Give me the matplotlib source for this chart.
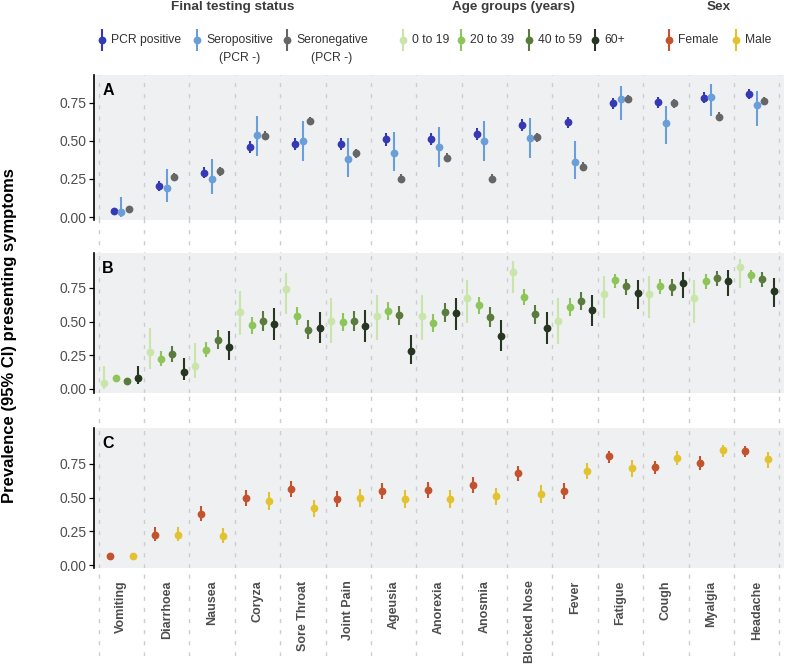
import matplotlib
matplotlib.use("Agg")
import matplotlib.pyplot as plt
import numpy as np

plt.rcParams['font.family'] = ['Liberation Sans', 'DejaVu Sans']

# ---------------- data ----------------
symptoms = ["Vomiting", "Diarrhoea", "Nausea", "Coryza", "Sore Throat", "Joint Pain",
            "Ageusia", "Anorexia", "Anosmia", "Blocked Nose", "Fever", "Fatigue",
            "Cough", "Myalgia", "Headache"]

# Panel A: final testing status
pcr_pos = [0.041, 0.204, 0.292, 0.46, 0.48, 0.48, 0.51, 0.515, 0.544, 0.605, 0.623, 0.748, 0.756, 0.785, 0.81]
pcr_pos_lo = [0.03, 0.17, 0.255, 0.42, 0.44, 0.44, 0.47, 0.475, 0.505, 0.565, 0.585, 0.71, 0.72, 0.75, 0.775]
pcr_pos_hi = [0.06, 0.24, 0.33, 0.50, 0.52, 0.52, 0.55, 0.555, 0.585, 0.645, 0.66, 0.785, 0.79, 0.82, 0.84]

sero_pos = [0.035, 0.189, 0.248, 0.54, 0.50, 0.384, 0.42, 0.46, 0.50, 0.52, 0.364, 0.774, 0.616, 0.79, 0.735]
sero_pos_lo = [0.0, 0.10, 0.15, 0.40, 0.37, 0.26, 0.30, 0.33, 0.37, 0.386, 0.248, 0.64, 0.48, 0.666, 0.60]
sero_pos_hi = [0.134, 0.318, 0.38, 0.665, 0.63, 0.52, 0.557, 0.59, 0.63, 0.65, 0.50, 0.86, 0.73, 0.875, 0.83]

sero_neg = [0.053, 0.263, 0.30, 0.535, 0.634, 0.42, 0.252, 0.39, 0.25, 0.526, 0.33, 0.776, 0.75, 0.66, 0.763]
sero_neg_lo = [0.04, 0.235, 0.27, 0.505, 0.605, 0.39, 0.225, 0.36, 0.225, 0.495, 0.30, 0.75, 0.72, 0.63, 0.735]
sero_neg_hi = [0.07, 0.29, 0.33, 0.565, 0.66, 0.45, 0.28, 0.42, 0.28, 0.555, 0.36, 0.80, 0.775, 0.69, 0.79]

# Panel B: age groups
age_0_19 = [0.042, 0.272, 0.173, 0.572, 0.74, 0.505, 0.54, 0.54, 0.673, 0.871, 0.505, 0.705, 0.705, 0.673, 0.908]
age_0_19_lo = [0.0, 0.15, 0.08, 0.40, 0.557, 0.34, 0.364, 0.364, 0.49, 0.71, 0.336, 0.525, 0.525, 0.49, 0.747]
age_0_19_hi = [0.17, 0.45, 0.34, 0.73, 0.863, 0.673, 0.70, 0.70, 0.81, 0.952, 0.673, 0.84, 0.84, 0.81, 0.967]

age_20_39 = [0.079, 0.225, 0.287, 0.473, 0.542, 0.495, 0.581, 0.492, 0.621, 0.685, 0.611, 0.81, 0.767, 0.804, 0.848]
age_20_39_lo = [0.055, 0.17, 0.24, 0.406, 0.475, 0.428, 0.512, 0.42, 0.555, 0.621, 0.542, 0.747, 0.705, 0.74, 0.789]
age_20_39_hi = [0.105, 0.28, 0.35, 0.537, 0.606, 0.562, 0.646, 0.556, 0.685, 0.745, 0.673, 0.854, 0.817, 0.854, 0.883]

age_40_59 = [0.059, 0.26, 0.364, 0.505, 0.438, 0.507, 0.547, 0.57, 0.537, 0.555, 0.655, 0.765, 0.757, 0.826, 0.817]
age_40_59_lo = [0.04, 0.20, 0.30, 0.433, 0.37, 0.433, 0.475, 0.495, 0.463, 0.48, 0.584, 0.698, 0.69, 0.767, 0.755]
age_40_59_hi = [0.08, 0.32, 0.44, 0.577, 0.512, 0.577, 0.616, 0.636, 0.606, 0.621, 0.72, 0.814, 0.814, 0.876, 0.866]

age_60 = [0.084, 0.128, 0.314, 0.483, 0.453, 0.468, 0.282, 0.562, 0.391, 0.45, 0.589, 0.71, 0.79, 0.804, 0.728]
age_60_lo = [0.04, 0.067, 0.215, 0.366, 0.34, 0.351, 0.186, 0.438, 0.282, 0.336, 0.468, 0.592, 0.673, 0.69, 0.611]
age_60_hi = [0.17, 0.23, 0.43, 0.60, 0.57, 0.587, 0.40, 0.673, 0.512, 0.572, 0.70, 0.81, 0.869, 0.883, 0.822]

# Panel C: sex
female = [0.067, 0.223, 0.381, 0.497, 0.564, 0.488, 0.547, 0.557, 0.596, 0.683, 0.547, 0.807, 0.725, 0.76, 0.846]
female_lo = [0.05, 0.178, 0.327, 0.44, 0.507, 0.428, 0.488, 0.50, 0.537, 0.624, 0.488, 0.755, 0.673, 0.703, 0.80]
female_hi = [0.085, 0.28, 0.438, 0.557, 0.621, 0.547, 0.607, 0.615, 0.653, 0.735, 0.607, 0.849, 0.774, 0.809, 0.883]

male = [0.067, 0.223, 0.218, 0.475, 0.42, 0.495, 0.492, 0.492, 0.51, 0.527, 0.70, 0.722, 0.797, 0.854, 0.785]
male_lo = [0.05, 0.175, 0.166, 0.408, 0.356, 0.43, 0.425, 0.425, 0.443, 0.46, 0.636, 0.656, 0.74, 0.80, 0.722]
male_hi = [0.09, 0.28, 0.272, 0.542, 0.482, 0.562, 0.557, 0.557, 0.574, 0.592, 0.755, 0.78, 0.844, 0.893, 0.841]

status_labels = ["PCR positive", "Seropositive\n(PCR -)", "Seronegative\n(PCR -)"]
age_labels = ["0 to 19", "20 to 39", "40 to 59", "60+"]
sex_labels = ["Female", "Male"]

status_colors = ["#3539B4", "#6A9ED8", "#666666"]
age_colors = ["#C9E5AA", "#8DC55A", "#5B7B3E", "#273620"]
sex_colors = ["#C2532D", "#E3C22F"]

# ---------------- layout ----------------
W, H = 787, 671
fig = plt.figure(figsize=(W / 100, H / 100), dpi=100)


def fx(px):
    return px / W


def fh(px):
    return px / H


LEFT, RIGHT = 94, 784
XLIM = (0.4, 15.6)
BG = "#EFF0F2"
GRID = "#CDCDCD"
TXT = "#4D4D4D"
xpos = np.arange(1, len(symptoms) + 1)
bounds = np.arange(0.5, len(symptoms) + 1, 1.0)

# background dashed separators running through gaps and label area
bgax = fig.add_axes([fx(LEFT), 1 - fh(656), fx(RIGHT - LEFT), fh(656 - 75)], zorder=0)
bgax.set_xlim(XLIM)
bgax.set_ylim(0, 1)
bgax.axis('off')
for b in bounds:
    bgax.axvline(b, color=GRID, lw=1.0, dashes=(3, 5))

panel_specs = [
    ("A", 75, 220, (-0.0197, 0.934)),
    ("B", 253, 393, (-0.0297, 1.009)),
    ("C", 428, 568, (-0.022, 1.017)),
]

axes = []
for letter, top, bot, ylim in panel_specs:
    ax = fig.add_axes([fx(LEFT), 1 - fh(bot), fx(RIGHT - LEFT), fh(bot - top)], zorder=1)
    ax.set_facecolor(BG)
    ax.set_xlim(XLIM)
    ax.set_ylim(ylim)
    for s in ["top", "right", "bottom"]:
        ax.spines[s].set_visible(False)
    ax.spines["left"].set_color("black")
    ax.spines["left"].set_linewidth(1.2)
    for b in bounds:
        ax.axvline(b, color=GRID, lw=1.0, dashes=(3, 5), zorder=0.5)
    ax.set_yticks([0, 0.25, 0.5, 0.75])
    ax.set_yticklabels(["0.00", "0.25", "0.50", "0.75"])
    ax.tick_params(axis="y", length=3.5, width=0.9, color="black", labelsize=10,
                   labelcolor=TXT, pad=2)
    ax.set_xticks(xpos)
    ax.tick_params(axis="x", length=0)
    if letter == "C":
        ax.set_xticklabels(symptoms, rotation=90, fontsize=9, fontweight="bold",
                           color=TXT, va="top", ha="center")
        ax.tick_params(axis="x", pad=9)
    else:
        ax.set_xticklabels([])
    ax.annotate(letter, xy=(0, 1), xycoords="axes fraction", xytext=(6, -11),
                textcoords="offset points", fontsize=11.5, fontweight="bold",
                ha="left", va="center", color="black")
    axes.append(ax)


def draw_series(ax, offset, vals, lo, hi, color):
    x = xpos + offset
    v = np.array(vals)
    yerr = np.vstack([v - np.array(lo), np.array(hi) - v])
    ax.errorbar(x, v, yerr=yerr, fmt="o", ms=5.6, color=color, ecolor=color,
                elinewidth=1.5, capsize=0, mew=0, zorder=3)


axA, axB, axC = axes
for off, vals, lo, hi, col in zip([-0.167, 0.0, 0.167],
                                  [pcr_pos, sero_pos, sero_neg],
                                  [pcr_pos_lo, sero_pos_lo, sero_neg_lo],
                                  [pcr_pos_hi, sero_pos_hi, sero_neg_hi],
                                  status_colors):
    draw_series(axA, off, vals, lo, hi, col)

for off, vals, lo, hi, col in zip([-0.375, -0.125, 0.125, 0.375],
                                  [age_0_19, age_20_39, age_40_59, age_60],
                                  [age_0_19_lo, age_20_39_lo, age_40_59_lo, age_60_lo],
                                  [age_0_19_hi, age_20_39_hi, age_40_59_hi, age_60_hi],
                                  age_colors):
    draw_series(axB, off, vals, lo, hi, col)

for off, vals, lo, hi, col in zip([-0.25, 0.25],
                                  [female, male],
                                  [female_lo, male_lo],
                                  [female_hi, male_hi],
                                  sex_colors):
    draw_series(axC, off, vals, lo, hi, col)

# y label
fig.text(fx(10), 1 - fh(336), "Prevalence (95% CI) presenting symptoms", rotation=90,
         fontsize=12, fontweight="bold", ha="center", va="center", color="black")

# ---------------- legend (pixel-space overlay) ----------------
lg = fig.add_axes([0, 0, 1, 1], zorder=5)
lg.set_xlim(0, W)
lg.set_ylim(H, 0)
lg.axis("off")

LEG_Y = 40
TITLE_Y = 7
LEG_COL = "#333333"


def key(xm, color):
    lg.plot([xm, xm], [LEG_Y - 11, LEG_Y + 11], color=color, lw=1.5, solid_capstyle="butt")
    lg.plot([xm], [LEG_Y], "o", ms=5.6, color=color, mew=0)


def key_text(xt, label):
    lines = label.split("\n")
    if len(lines) == 1:
        lg.text(xt, LEG_Y, label, fontsize=8.7, color=LEG_COL, ha="left", va="center")
    else:
        lg.text(xt, LEG_Y - 6.5, label, fontsize=8.7, color=LEG_COL, ha="left",
                va="top", multialignment="center", linespacing=1.75)


groups = [
    ("Final testing status", 233, status_labels, status_colors, [102, 197, 287]),
    ("Age groups (years)", 513, age_labels, age_colors, [403, 461, 529, 595]),
    ("Sex", 719, sex_labels, sex_colors, [669, 736]),
]
for title, tx, labels, cols, xs in groups:
    lg.text(tx, TITLE_Y, title, fontsize=9.7, fontweight="bold", color="#3C3C3C",
            ha="center", va="center")
    for lab, col, xm in zip(labels, cols, xs):
        key(xm, col)
        key_text(xm + 9, lab)

fig.savefig("out.png", dpi=100)
